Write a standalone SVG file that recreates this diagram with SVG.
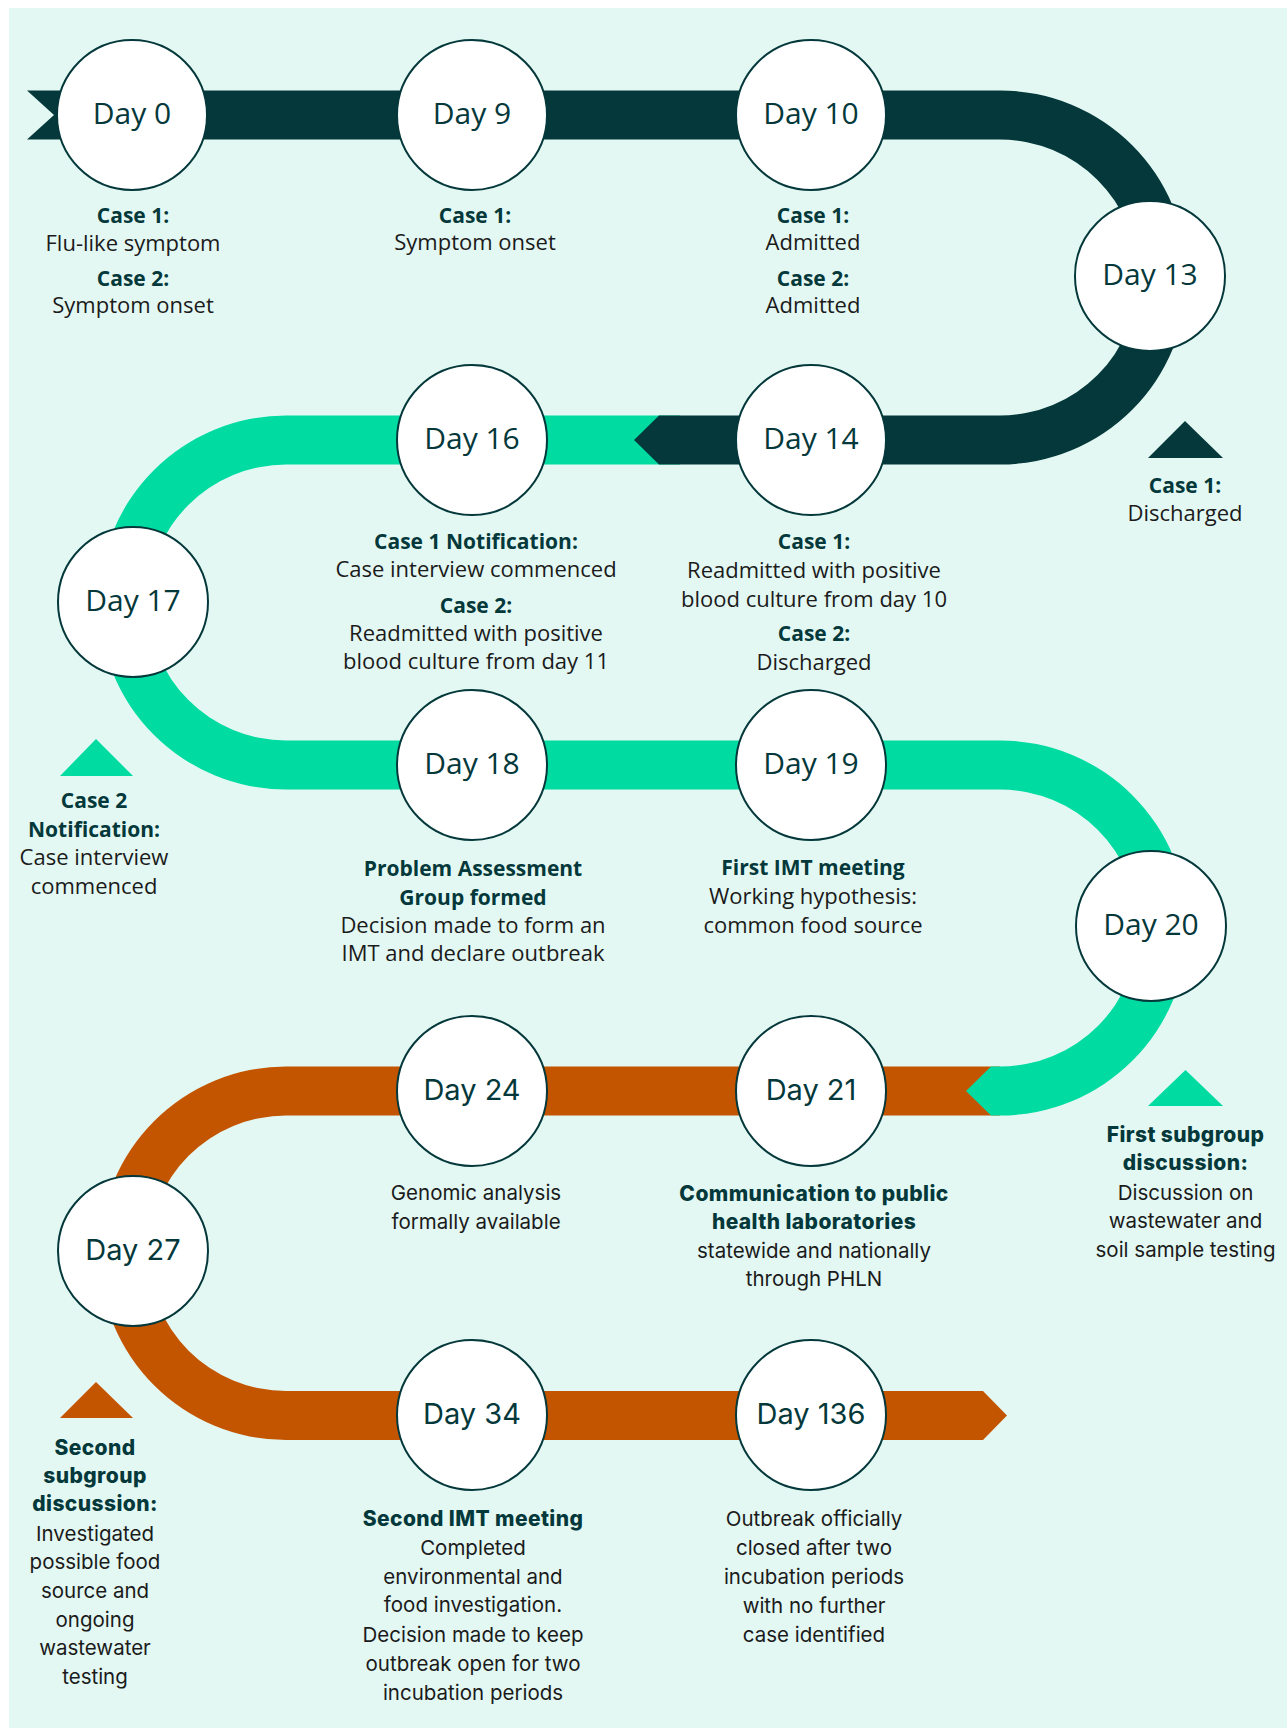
<svg xmlns="http://www.w3.org/2000/svg" width="1287" height="1728" viewBox="0 0 1287 1728">
<style>
.bd{fill:#04383A}.bg{fill:#00DBA2}.bo{fill:#C45500}
.node circle{fill:#fff;stroke:#04383A;stroke-width:2}
.day{font-family:"Open Sans","Noto Sans",sans-serif;font-size:30px;fill:#04383A;text-anchor:middle}
.day2{font-family:Inter,"Noto Sans",sans-serif;font-size:29px;font-weight:400}
.t{font-family:"Open Sans","Noto Sans",sans-serif;font-size:22px;fill:#1b1b1b;text-anchor:middle}
.m{font-family:Inter,"Noto Sans",sans-serif;font-size:20.5px}
.h{font-weight:700;fill:#04383A;font-size:21px}
.hm{font-weight:800;fill:#04383A;font-size:21px;letter-spacing:0.4px}
</style>
<rect x="9" y="8" width="1278" height="1720" fill="#E3F8F3"/>
<g id="connectors">
<path class="bo" d="M1000 1066.5 L286 1066.5 A186.75 186.75 0 0 0 286 1440 L983 1440 L1007 1415.5 L983 1391 L286 1391 A137.75 137.75 0 0 1 286 1115.5 L1000 1115.5 Z"/>
<path class="bg" d="M680 415.5 L286 415.5 A187 187 0 0 0 286 789.5 L1000 789.5 A138.5 138.5 0 0 1 1000 1066.5 L991 1066.5 L966 1091 L991 1115.5 L1000 1115.5 A187.5 187.5 0 0 0 1000 740.5 L286 740.5 A138 138 0 0 1 286 464.5 L680 464.5 Z"/>
<path class="bd" d="M27 90.5 L1000 90.5 A187 187 0 0 1 1000 464.5 L659 464.5 L634 440 L659 415.5 L1000 415.5 A138 138 0 0 0 1000 139.5 L27 139.5 L54 115 Z"/>
</g>
<g id="day0" class="node"><circle cx="132" cy="115" r="75"/><text class="day" x="132" y="124">Day 0</text>
<text class="t h" x="133" y="223">Case 1:</text><text class="t" x="133" y="251">Flu-like symptom</text><text class="t h" x="133" y="286">Case 2:</text><text class="t" x="133" y="313">Symptom onset</text></g>
<g id="day9" class="node"><circle cx="472" cy="115" r="75"/><text class="day" x="472" y="124">Day 9</text>
<text class="t h" x="475" y="223">Case 1:</text><text class="t" x="475" y="250">Symptom onset</text></g>
<g id="day10" class="node"><circle cx="811" cy="115" r="75"/><text class="day" x="811" y="124">Day 10</text>
<text class="t h" x="813" y="223">Case 1:</text><text class="t" x="813" y="250">Admitted</text><text class="t h" x="813" y="286">Case 2:</text><text class="t" x="813" y="313">Admitted</text></g>
<g id="day13" class="node"><circle cx="1150" cy="276" r="75"/><text class="day" x="1150" y="285">Day 13</text></g>
<g id="note13"><polygon class="bd" points="1148,458 1185,421 1223,458"/><text class="t h" x="1185" y="493">Case 1:</text><text class="t" x="1185" y="521">Discharged</text></g>
<g id="day14" class="node"><circle cx="811" cy="440" r="75"/><text class="day" x="811" y="449">Day 14</text>
<text class="t h" x="814" y="549">Case 1:</text><text class="t" x="814" y="578">Readmitted with positive</text><text class="t" x="814" y="607">blood culture from day 10</text><text class="t h" x="814" y="641">Case 2:</text><text class="t" x="814" y="670">Discharged</text></g>
<g id="day16" class="node"><circle cx="472" cy="440" r="75"/><text class="day" x="472" y="449">Day 16</text>
<text class="t h" x="476" y="549">Case 1 Notification:</text><text class="t" x="476" y="577">Case interview commenced</text><text class="t h" x="476" y="613">Case 2:</text><text class="t" x="476" y="641">Readmitted with positive</text><text class="t" x="476" y="669">blood culture from day 11</text></g>
<g id="day17" class="node"><circle cx="133" cy="602" r="75"/><text class="day" x="133" y="611">Day 17</text></g>
<g id="note17"><polygon class="bg" points="60,776 96,739 133,776"/><text class="t h" x="94" y="808">Case 2</text><text class="t h" x="94" y="837">Notification:</text><text class="t" x="94" y="865">Case interview</text><text class="t" x="94" y="894">commenced</text></g>
<g id="day18" class="node"><circle cx="472" cy="765" r="75"/><text class="day" x="472" y="774">Day 18</text>
<text class="t h" x="473" y="876">Problem Assessment</text><text class="t h" x="473" y="905">Group formed</text><text class="t" x="473" y="933">Decision made to form an</text><text class="t" x="473" y="961">IMT and declare outbreak</text></g>
<g id="day19" class="node"><circle cx="811" cy="765" r="75"/><text class="day" x="811" y="774">Day 19</text>
<text class="t h" x="813" y="875">First IMT meeting</text><text class="t" x="813" y="904">Working hypothesis:</text><text class="t" x="813" y="933">common food source</text></g>
<g id="day20" class="node"><circle cx="1151" cy="926" r="75"/><text class="day" x="1151" y="935">Day 20</text></g>
<g id="note20"><polygon class="bg" points="1148,1106 1185.5,1070 1223,1106"/><text class="t m hm" x="1185.5" y="1142">First subgroup</text><text class="t m hm" x="1185.5" y="1170">discussion:</text><text class="t m" x="1185.5" y="1200">Discussion on</text><text class="t m" x="1185.5" y="1228">wastewater and</text><text class="t m" x="1185.5" y="1257">soil sample testing</text></g>
<g id="day21" class="node"><circle cx="811" cy="1091" r="75"/><text class="day day2" x="811" y="1100">Day 21</text>
<text class="t m hm" x="814" y="1201">Communication to public</text><text class="t m hm" x="814" y="1229">health laboratories</text><text class="t m" x="814" y="1258">statewide and nationally</text><text class="t m" x="814" y="1286">through PHLN</text></g>
<g id="day24" class="node"><circle cx="472" cy="1091" r="75"/><text class="day day2" x="472" y="1100">Day 24</text>
<text class="t m" x="476" y="1200">Genomic analysis</text><text class="t m" x="476" y="1229">formally available</text></g>
<g id="day27" class="node"><circle cx="133" cy="1251" r="75"/><text class="day day2" x="133" y="1260">Day 27</text></g>
<g id="note27"><polygon class="bo" points="60,1418 96,1382 133,1418"/><text class="t m hm" x="95" y="1455">Second</text><text class="t m hm" x="95" y="1483">subgroup</text><text class="t m hm" x="95" y="1511">discussion:</text><text class="t m" x="95" y="1541">Investigated</text><text class="t m" x="95" y="1569">possible food</text><text class="t m" x="95" y="1598">source and</text><text class="t m" x="95" y="1627">ongoing</text><text class="t m" x="95" y="1655">wastewater</text><text class="t m" x="95" y="1684">testing</text></g>
<g id="day34" class="node"><circle cx="472" cy="1415" r="75"/><text class="day day2" x="472" y="1424">Day 34</text>
<text class="t m hm" x="473" y="1526">Second IMT meeting</text><text class="t m" x="473" y="1555">Completed</text><text class="t m" x="473" y="1584">environmental and</text><text class="t m" x="473" y="1612">food investigation.</text><text class="t m" x="473" y="1642">Decision made to keep</text><text class="t m" x="473" y="1671">outbreak open for two</text><text class="t m" x="473" y="1700">incubation periods</text></g>
<g id="day136" class="node"><circle cx="811" cy="1415" r="75"/><text class="day day2" x="811" y="1424">Day 136</text>
<text class="t m" x="814" y="1526">Outbreak officially</text><text class="t m" x="814" y="1555">closed after two</text><text class="t m" x="814" y="1584">incubation periods</text><text class="t m" x="814" y="1613">with no further</text><text class="t m" x="814" y="1642">case identified</text></g>
</svg>
